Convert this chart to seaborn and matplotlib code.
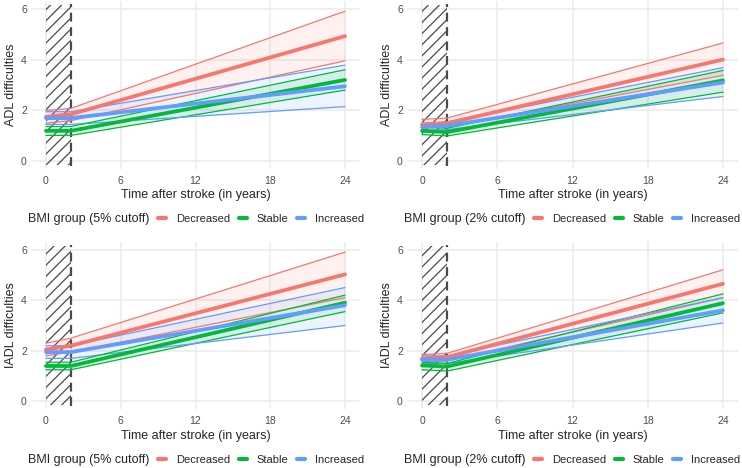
import numpy as np
import pandas as pd
import matplotlib
matplotlib.use("Agg")
import matplotlib.pyplot as plt
import seaborn as sns
from matplotlib.lines import Line2D

# time points (years after stroke): start, end of 2-year window, end of follow-up
times = [0, 2, 24]
groups = ["Decreased", "Stable", "Increased"]
palette = {"Decreased": "#F8766D", "Stable": "#00BA38", "Increased": "#619CFF"}

# ADL, 5% cutoff
adl5_mean = {"Decreased": [1.75, 1.85, 4.92], "Stable": [1.2, 1.2, 3.2], "Increased": [1.7, 1.7, 2.95]}
adl5_lo = {"Decreased": [1.5, 1.6, 3.95], "Stable": [1.02, 1.02, 2.8], "Increased": [1.45, 1.45, 2.15]}
adl5_hi = {"Decreased": [2.0, 2.08, 5.9], "Stable": [1.37, 1.37, 3.6], "Increased": [1.95, 1.95, 3.78]}

# ADL, 2% cutoff
adl2_mean = {"Decreased": [1.45, 1.5, 4.0], "Stable": [1.2, 1.15, 3.18], "Increased": [1.35, 1.4, 3.1]}
adl2_lo = {"Decreased": [1.3, 1.35, 3.38], "Stable": [1.05, 1.0, 2.72], "Increased": [1.2, 1.25, 2.55]}
adl2_hi = {"Decreased": [1.65, 1.7, 4.65], "Stable": [1.35, 1.3, 3.57], "Increased": [1.5, 1.55, 3.68]}

# IADL, 5% cutoff
iadl5_mean = {"Decreased": [2.05, 2.2, 5.02], "Stable": [1.4, 1.4, 3.9], "Increased": [1.95, 1.95, 3.8]}
iadl5_lo = {"Decreased": [1.8, 1.95, 4.1], "Stable": [1.25, 1.25, 3.55], "Increased": [1.7, 1.7, 3.0]}
iadl5_hi = {"Decreased": [2.3, 2.5, 5.9], "Stable": [1.55, 1.55, 4.2], "Increased": [2.2, 2.2, 4.5]}

# IADL, 2% cutoff
iadl2_mean = {"Decreased": [1.7, 1.75, 4.65], "Stable": [1.42, 1.38, 3.88], "Increased": [1.65, 1.65, 3.6]}
iadl2_lo = {"Decreased": [1.55, 1.6, 4.1], "Stable": [1.25, 1.2, 3.5], "Increased": [1.5, 1.5, 3.1]}
iadl2_hi = {"Decreased": [1.85, 1.9, 5.2], "Stable": [1.55, 1.5, 4.25], "Increased": [1.8, 1.8, 4.1]}

x_ticks = [0, 6, 12, 18, 24]
y_ticks = [0, 2, 4, 6]

sns.set_theme(style="whitegrid")
plt.rcParams["font.family"] = ["Liberation Sans", "DejaVu Sans"]
plt.rcParams["hatch.linewidth"] = 0.9

W, H = 742, 468
fig = plt.figure(figsize=(W / 100, H / 100), dpi=100)


def px_axes(left, top, right, bottom):
    return fig.add_axes([left / W, 1 - bottom / H, (right - left) / W, (bottom - top) / H])


def make_df(mean, lo, hi):
    rows = []
    for g in groups:
        for t, m, l, h in zip(times, mean[g], lo[g], hi[g]):
            rows.append({"time": t, "group": g, "mean": m, "lo": l, "hi": h})
    return pd.DataFrame(rows)


def draw_panel(ax, mean, lo, hi, ylabel, cutoff, title_x, legend_y, xlabel_y):
    df = make_df(mean, lo, hi)
    ax.set_xlim(-1.2, 25.2)
    ax.set_ylim(-0.3, 6.3)
    # hatched first two years
    ax.fill_between([0, 2], -0.15, 6.15, facecolor="none", edgecolor="#4a4a4a",
                    linewidth=0, hatch="///", zorder=1)
    ax.axvline(2, ymin=0.02, ymax=0.98, color="#4a4a4a", lw=1.6, ls=(0, (4, 2.5)), zorder=2)
    for g in groups:
        sub = df[df.group == g]
        ax.fill_between(sub["time"], sub["lo"], sub["hi"], color=palette[g], alpha=0.1,
                        linewidth=0, zorder=3)
    for col, lw in [("lo", 0.9), ("hi", 0.9), ("mean", 2.7)]:
        sns.lineplot(data=df, x="time", y=col, hue="group", hue_order=groups,
                     palette=palette, lw=lw, legend=False, ax=ax, zorder=4)
    ax.set_xticks(x_ticks)
    ax.set_yticks(y_ticks)
    ax.grid(True, color="#EBEBEB", lw=1.1)
    ax.set_axisbelow(True)
    for s in ax.spines.values():
        s.set_visible(False)
    ax.tick_params(axis="both", length=0, labelsize=7.5, labelcolor="#4D4D4D", pad=3)
    ax.tick_params(axis="x", pad=5)
    ax.set_xlabel("")
    ax.set_ylabel(ylabel, fontsize=9, labelpad=3)
    bbox = ax.get_position()
    fig.text(bbox.x0 + bbox.width / 2, 1 - xlabel_y / H, "Time after stroke (in years)",
             ha="center", va="center", fontsize=9)
    fig.text(title_x / W, 1 - legend_y / H, f"BMI group ({cutoff} cutoff)",
             ha="right", va="center", fontsize=9)
    handles = [Line2D([], [], color=palette[g], lw=3) for g in groups]
    fig.legend(handles, groups, loc="center left", ncol=3, frameon=False,
               bbox_to_anchor=((title_x + 9) / W, 1 - legend_y / H),
               fontsize=8, handlelength=0.72, handletextpad=0.9, columnspacing=0.78,
               borderaxespad=0, borderpad=0)


ax1 = px_axes(31, 1, 360, 169)
draw_panel(ax1, adl5_mean, adl5_lo, adl5_hi, "ADL difficulties", "5%", 149, 219, 195)
ax2 = px_axes(407, 1, 738, 169)
draw_panel(ax2, adl2_mean, adl2_lo, adl2_hi, "ADL difficulties", "2%", 525, 219, 195)
ax3 = px_axes(31, 242, 360, 409)
draw_panel(ax3, iadl5_mean, iadl5_lo, iadl5_hi, "IADL difficulties", "5%", 149, 460, 436)
ax4 = px_axes(407, 242, 738, 409)
draw_panel(ax4, iadl2_mean, iadl2_lo, iadl2_hi, "IADL difficulties", "2%", 525, 460, 436)

fig.savefig("out.png", dpi=100, facecolor="white")
